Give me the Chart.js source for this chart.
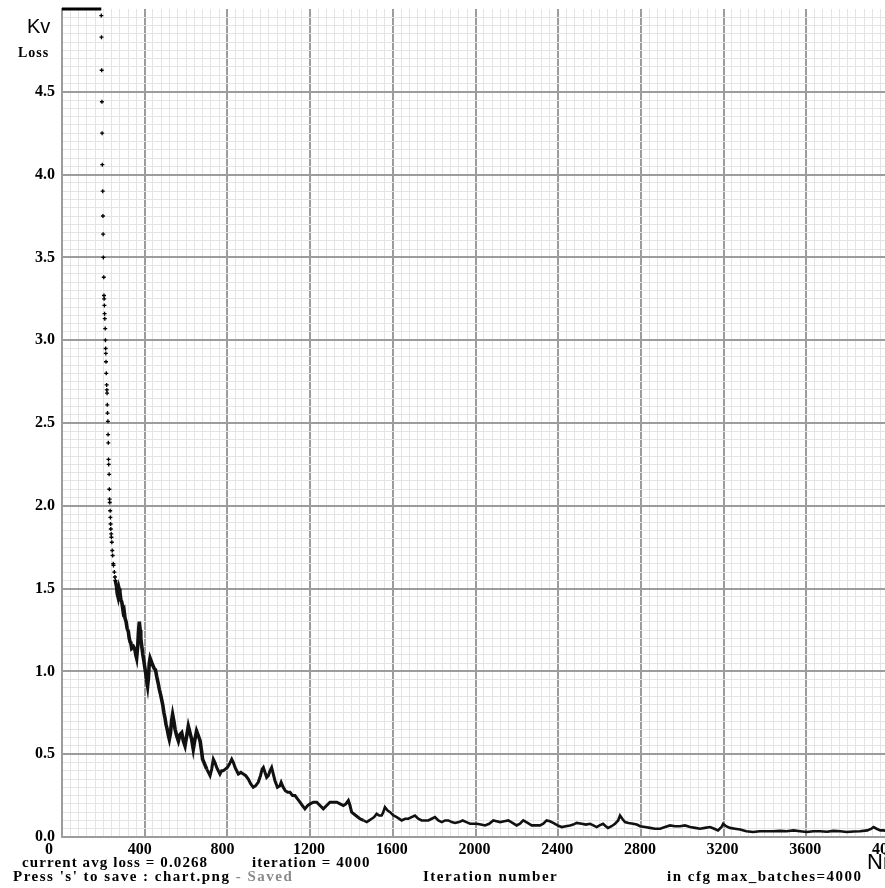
<!DOCTYPE html>
<html><head><meta charset="utf-8">
<script src="https://cdn.jsdelivr.net/npm/chart.js@4.4.1/dist/chart.umd.min.js"></script>
<style>
html,body{margin:0;padding:0;background:#fff;overflow:hidden;width:885px;height:888px;}
#wrap{position:absolute;left:0;top:0;width:896px;height:888px;}
.t{position:absolute;white-space:pre;line-height:1;color:#000;}
.s{font-family:"Liberation Serif",serif;font-weight:bold;font-size:15px;letter-spacing:1.5px;}
</style></head><body>
<div id="wrap"><canvas id="c" width="896" height="888"></canvas></div>
<div class="t" style="left:27px;top:16px;font-family:'Liberation Sans',sans-serif;font-size:20px;">Kv</div>
<div class="t s" style="left:18px;top:46px;font-size:14px;letter-spacing:1px;">Loss</div>
<div class="t" style="left:867px;top:851px;font-family:'Liberation Sans',sans-serif;font-size:22px;">Ni</div>
<div class="t s" style="left:22px;top:855px;letter-spacing:1.1px;">current avg loss = 0.0268</div>
<div class="t s" style="left:252px;top:855px;letter-spacing:1.1px;">iteration = 4000</div>
<div class="t s" style="left:13px;top:869px;">Press 's' to save : chart.png <span style="color:#8a8a8a">- Saved</span></div>
<div class="t s" style="left:423px;top:869px;">Iteration number</div>
<div class="t s" style="left:667px;top:869px;">in cfg max_batches=4000</div>
<script>
// Loss values clamped at the top of the chart (drawn at the max)
const clampIter = [0, 190];
const clampLoss = [5.0, 5.0];

// Steep early part, drawn as separate dots
const dotIter = [190,191,192,193,194,195,197,198,199,200,202,203,204,205,206,207,209,210,211,212,213,214,216,217,218,219,220,222,223,224,225,226,228,229,230,231,233,234,235,236,238,239,241,243,245,248,249,253,256,258];
const dotLoss = [4.96,4.83,4.63,4.44,4.25,4.06,3.90,3.75,3.64,3.50,3.38,3.27,3.25,3.21,3.16,3.13,3.07,3.00,2.95,2.92,2.87,2.80,2.73,2.70,2.68,2.61,2.56,2.51,2.43,2.38,2.28,2.25,2.19,2.10,2.04,2.02,1.97,1.93,1.89,1.86,1.83,1.81,1.78,1.73,1.70,1.65,1.64,1.60,1.57,1.55];

// Rest of the curve (avg loss vs iteration)
const lineIter = [258,264,267,271,276,280,285,289,296,300,305,310,315,321,325,329,333,337,345,353,357,361,366,370,374,378,381,386,390,395,401,406,410,414,418,422,426,432,438,445,452,458,465,471,477,482,487,493,498,503,509,515,519,525,530,535,541,547,555,563,571,579,587,595,603,611,619,627,635,643,651,660,668,675,680,690,700,708,716,724,732,740,748,756,764,772,780,790,800,810,821,829,837,845,853,865,877,889,901,913,925,937,949,960,968,974,982,990,998,1006,1014,1022,1030,1042,1054,1060,1070,1080,1092,1103,1115,1127,1139,1151,1163,1175,1188,1200,1216,1232,1248,1264,1280,1296,1312,1329,1345,1361,1373,1385,1393,1401,1421,1441,1458,1474,1486,1498,1510,1522,1534,1546,1554,1562,1575,1587,1603,1619,1643,1659,1675,1691,1707,1723,1740,1756,1772,1788,1804,1820,1837,1853,1869,1885,1901,1920,1938,1956,1974,1990,2006,2026,2046,2066,2086,2102,2119,2139,2159,2179,2199,2215,2231,2252,2272,2292,2312,2328,2344,2360,2376,2397,2417,2437,2457,2473,2489,2514,2534,2554,2570,2586,2600,2617,2630,2641,2658,2675,2690,2699,2710,2723,2740,2762,2780,2796,2820,2844,2868,2893,2917,2941,2965,2989,3013,3038,3062,3086,3110,3134,3155,3173,3190,3198,3212,3231,3255,3280,3310,3343,3375,3409,3441,3473,3505,3538,3570,3602,3635,3667,3700,3731,3764,3796,3828,3860,3895,3915,3925,3940,3958,3973,4000];
const lineLoss = [1.55,1.51,1.47,1.45,1.50,1.48,1.43,1.42,1.36,1.37,1.32,1.30,1.26,1.24,1.20,1.18,1.17,1.14,1.15,1.13,1.10,1.08,1.15,1.24,1.30,1.25,1.20,1.15,1.11,1.07,1.02,0.98,0.94,0.91,0.96,1.05,1.08,1.06,1.04,1.02,1.01,0.97,0.93,0.89,0.86,0.83,0.80,0.75,0.72,0.68,0.65,0.61,0.59,0.63,0.70,0.74,0.70,0.65,0.61,0.58,0.62,0.63,0.58,0.55,0.61,0.67,0.63,0.59,0.53,0.59,0.64,0.61,0.58,0.52,0.47,0.44,0.41,0.39,0.37,0.41,0.47,0.45,0.42,0.40,0.38,0.40,0.40,0.41,0.42,0.44,0.47,0.45,0.42,0.40,0.38,0.39,0.38,0.37,0.35,0.32,0.30,0.31,0.33,0.37,0.41,0.42,0.39,0.36,0.37,0.40,0.42,0.38,0.34,0.30,0.31,0.33,0.30,0.28,0.27,0.27,0.25,0.25,0.23,0.21,0.19,0.17,0.19,0.20,0.21,0.21,0.19,0.17,0.19,0.21,0.21,0.21,0.20,0.19,0.20,0.22,0.19,0.15,0.13,0.11,0.10,0.09,0.10,0.11,0.12,0.14,0.13,0.13,0.15,0.18,0.16,0.15,0.13,0.12,0.10,0.11,0.11,0.12,0.13,0.11,0.10,0.10,0.10,0.11,0.12,0.10,0.09,0.10,0.10,0.09,0.085,0.09,0.10,0.09,0.08,0.08,0.08,0.075,0.07,0.08,0.10,0.095,0.09,0.095,0.10,0.085,0.07,0.08,0.10,0.085,0.07,0.07,0.07,0.08,0.10,0.095,0.085,0.07,0.06,0.065,0.07,0.075,0.085,0.08,0.075,0.08,0.07,0.06,0.07,0.08,0.065,0.055,0.065,0.08,0.10,0.13,0.11,0.09,0.085,0.08,0.075,0.065,0.06,0.055,0.05,0.05,0.06,0.07,0.065,0.065,0.07,0.06,0.055,0.05,0.055,0.06,0.05,0.04,0.06,0.08,0.065,0.055,0.05,0.045,0.035,0.03,0.035,0.035,0.035,0.037,0.035,0.04,0.035,0.03,0.035,0.035,0.032,0.037,0.035,0.03,0.033,0.035,0.04,0.05,0.06,0.05,0.04,0.04,0.035];

const X_MAJOR = 400, X_MINOR = 40, Y_MAJOR = 0.5, Y_MINOR = 0.05;
const X_MIN = 0, X_MAX = 4000, Y_MIN = 0, Y_MAX = 5;

const isMajor = (v, step) => Math.abs(v / step - Math.round(v / step)) < 1e-6;
const pts = (xs, ys) => xs.map((x, i) => ({x: x, y: ys[i]}));
const tickFont = {family: "'Liberation Serif', serif", weight: 'bold', size: 16};
const MAJOR_COL = '#9c9c9c', MINOR_COL = '#e4e4e4';

new Chart(document.getElementById('c'), {
  type: 'scatter',
  data: {
    datasets: [
      {data: pts(clampIter, clampLoss), showLine: true, borderColor: '#000', borderWidth: 3, pointRadius: 0, clip: false},
      {data: pts(dotIter, dotLoss), showLine: false, pointStyle: 'cross', pointRadius: 2, borderWidth: 1.3, borderColor: '#000', backgroundColor: '#000'},
      {data: pts(lineIter, lineLoss), showLine: true, borderColor: '#111', borderWidth: 2.6, pointRadius: 0, tension: 0,
       segment: {borderWidth: c => c.p0.parsed.x < 700 ? 3.6 : (c.p0.parsed.x < 1450 ? 3 : 2.6)}}
    ]
  },
  options: {
    responsive: false,
    animation: false,
    events: [],
    layout: {padding: {top: 9, right: 7, left: 0, bottom: 0}},
    plugins: {legend: {display: false}, tooltip: {enabled: false}},
    scales: {
      x: {
        type: 'linear', min: X_MIN, max: X_MAX,
        afterFit: s => { s.height = 51; s.paddingLeft = 0; s.paddingRight = 0; },
        ticks: {
          stepSize: X_MINOR, autoSkip: false, maxRotation: 0, minRotation: 0,
          align: 'start', labelOffset: -17, padding: 3, color: '#000', font: tickFont,
          callback: v => isMajor(v, X_MAJOR) ? String(v) : ''
        },
        grid: {
          drawTicks: false,
          color: c => isMajor(c.tick.value, X_MAJOR) ? MAJOR_COL : MINOR_COL,
          lineWidth: c => isMajor(c.tick.value, X_MAJOR) ? 2 : 1
        },
        border: {display: true, color: MAJOR_COL, width: 2}
      },
      y: {
        type: 'linear', min: Y_MIN, max: Y_MAX,
        afterFit: s => { s.width = 62; s.paddingTop = 0; s.paddingBottom = 0; },
        ticks: {
          stepSize: Y_MINOR, autoSkip: false, padding: 7, color: '#000', font: tickFont,
          callback: v => (isMajor(v, Y_MAJOR) && v < Y_MAX - 1e-6) ? v.toFixed(1) : ''
        },
        grid: {
          drawTicks: false,
          color: c => c.tick.value >= Y_MAX - 1e-6 ? 'rgba(0,0,0,0)' : (isMajor(c.tick.value, Y_MAJOR) ? MAJOR_COL : MINOR_COL),
          lineWidth: c => isMajor(c.tick.value, Y_MAJOR) ? 2 : 1
        },
        border: {display: true, color: MAJOR_COL, width: 2}
      }
    }
  }
});
</script>
</body></html>
